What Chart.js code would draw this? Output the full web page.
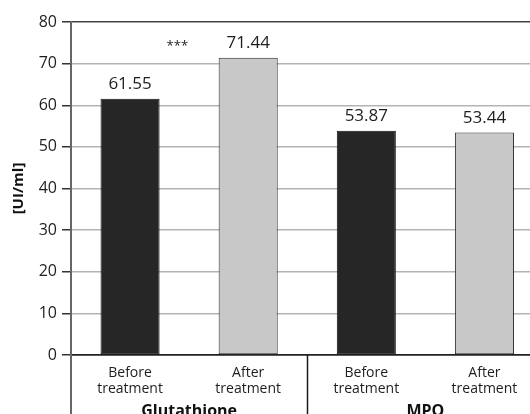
<!DOCTYPE html>
<html>
<head>
<meta charset="utf-8">
<script src="https://cdn.jsdelivr.net/npm/chart.js@4/dist/chart.umd.min.js"></script>
<style>
  html, body { margin: 0; padding: 0; overflow: hidden; background: #fff; }
  canvas { display: block; }
</style>
</head>
<body>
<canvas id="chart" width="560" height="414"></canvas>
<script>
// Category labels (two lines each), grouping and measured values [UI/ml]
const categoryLabels = [
  ['Before', 'treatment'],
  ['After', 'treatment'],
  ['Before', 'treatment'],
  ['After', 'treatment']
];
const groupNames = ['Glutathione', 'MPO'];
const groupOfCategory = [0, 0, 1, 1];
const values = [61.55, 71.44, 53.87, 53.44];
const valueTexts = ['61.55', '71.44', '53.87', '53.44'];
const yTicks = [0, 10, 20, 30, 40, 50, 60, 70, 80];
const significance = { text: '***', between: [0, 1] };

// Styling
const FONT = '"Open Sans", "Noto Sans", sans-serif';
const TEXT = '#1e1e1e';
const barFill = ['#262626', '#c8c8c8', '#262626', '#c8c8c8'];
const barEdge = ['#111111', '#2a2a2a', '#111111', '#2a2a2a'];

const annotate = {
  id: 'annotate',
  afterDraw(chart) {
    const { ctx, chartArea, scales } = chart;
    const x = scales.x, y = scales.y;
    const h = chart.height;
    ctx.save();

    // y axis continues below the plot through the label band
    ctx.strokeStyle = '#666';
    ctx.lineWidth = 2;
    ctx.beginPath();
    ctx.moveTo(chartArea.left, chartArea.bottom);
    ctx.lineTo(chartArea.left, h);
    ctx.stroke();

    // separators between groups
    ctx.strokeStyle = '#1a1a1a';
    ctx.lineWidth = 1.5;
    for (let i = 1; i < groupOfCategory.length; i++) {
      if (groupOfCategory[i] !== groupOfCategory[i - 1]) {
        const sx = Math.round((x.getPixelForValue(i - 1) + x.getPixelForValue(i)) / 2) + 0.5;
        ctx.beginPath();
        ctx.moveTo(sx, chartArea.bottom);
        ctx.lineTo(sx, h);
        ctx.stroke();
      }
    }

    // group names under the category labels
    ctx.fillStyle = '#111';
    ctx.font = 'bold 16px ' + FONT;
    ctx.textAlign = 'center';
    ctx.textBaseline = 'alphabetic';
    groupNames.forEach((name, g) => {
      const idx = groupOfCategory.map((v, i) => v === g ? i : -1).filter(i => i >= 0);
      const first = idx[0], last = idx[idx.length - 1];
      const cx = (x.getPixelForValue(first - 0.5) + x.getPixelForValue(last + 0.5)) / 2;
      ctx.fillText(name, cx, h + 2);
    });

    // value labels above bars
    const meta = chart.getDatasetMeta(0);
    ctx.fillStyle = TEXT;
    ctx.font = '17px ' + FONT;
    meta.data.forEach((bar, i) => {
      ctx.fillText(valueTexts[i], bar.x, bar.y - 10);
    });

    // significance marker
    const [a, b] = significance.between;
    ctx.font = '13px ' + FONT;
    ctx.textBaseline = 'middle';
    ctx.fillText(significance.text, x.getPixelForValue(a + (b - a) * 0.4), y.getPixelForValue(74.2));

    ctx.restore();
  }
};

new Chart(document.getElementById('chart'), {
  type: 'bar',
  data: {
    labels: categoryLabels,
    datasets: [{
      data: values,
      backgroundColor: barFill,
      borderColor: barEdge,
      borderWidth: 1,
      borderSkipped: false,
      barPercentage: 0.5,
      categoryPercentage: 1.0
    }]
  },
  options: {
    responsive: false,
    animation: false,
    events: [],
    layout: { padding: { left: 0, right: 16.5, top: 22, bottom: 0 } },
    plugins: {
      legend: { display: false },
      tooltip: { enabled: false }
    },
    scales: {
      x: {
        type: 'category',
        offset: true,
        grid: { display: false, drawTicks: false },
        border: { display: true, color: '#222', width: 1.5 },
        ticks: {
          color: TEXT,
          font: { family: FONT, size: 14, lineHeight: 1.15 },
          padding: 10,
          maxRotation: 0,
          autoSkip: false
        },
        afterFit(scale) { scale.height = 59; }
      },
      y: {
        min: 0,
        max: 80,
        afterBuildTicks(scale) { scale.ticks = yTicks.map(v => ({ value: v })); },
        grid: {
          color: ctx => ctx.tick && ctx.tick.value === 80 ? '#444' : (ctx.tick && ctx.tick.value === 0 ? '#222' : '#b4b4b4'),
          lineWidth: 1.5,
          tickColor: '#333',
          tickLength: 9
        },
        border: { display: true, color: '#666', width: 2 },
        ticks: {
          color: TEXT,
          font: { family: FONT, size: 16 },
          padding: 5
        },
        title: {
          display: true,
          text: '[UI/ml]',
          color: '#111',
          font: { family: FONT, size: 15, weight: 'bold' },
          padding: { top: 10, bottom: 0 }
        },
        afterFit(scale) { scale.width = 71; }
      }
    }
  },
  plugins: [annotate]
});
</script>
</body>
</html>
